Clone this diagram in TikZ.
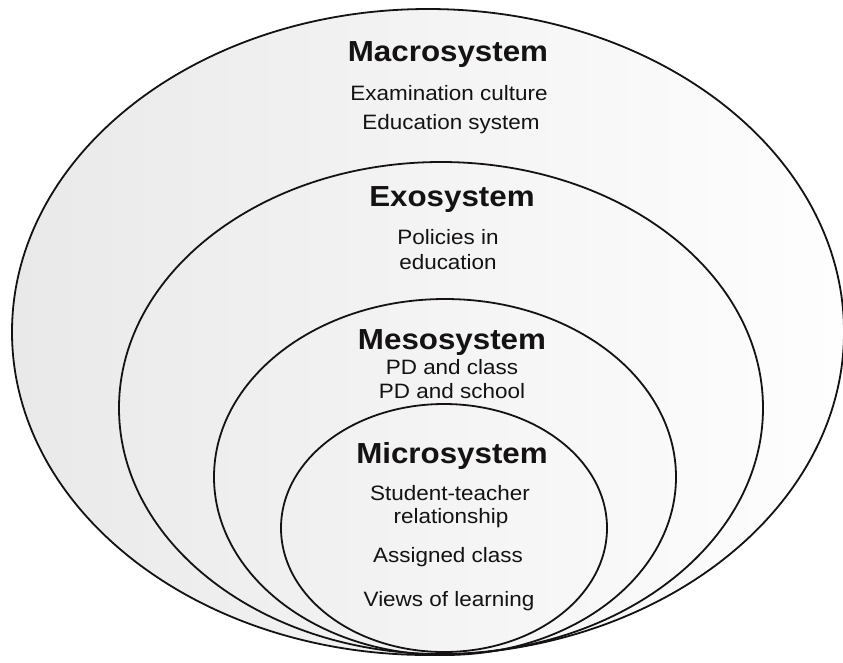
\documentclass[tikz,border=0pt]{standalone}
\usepackage{fontspec}
\setmainfont{Liberation Sans}[FakeStretch=1.08]
\usetikzlibrary{shapes.geometric}
\definecolor{inkc}{HTML}{141212}
\definecolor{shadeL}{HTML}{E9E9E9}
\definecolor{shadeR}{HTML}{FEFEFE}
\tikzset{
  ring/.style={ellipse, draw=inkc, line width=1.8pt, inner sep=0pt, outer sep=0pt},
  ttl/.style={anchor=base, inner sep=0pt, text=inkc, font=\fontsize{29}{33}\selectfont\bfseries},
  itm/.style={anchor=base, inner sep=0pt, text=inkc, font=\fontsize{20.8}{24}\selectfont},
}
\begin{document}
\begin{tikzpicture}[x=1pt,y=-1pt]
\useasboundingbox (0,0) rectangle (843,662);
\node[ring, left color=shadeL, right color=shadeR, minimum width=832pt, minimum height=646pt] (macro) at (428,332) {};
\node[ring, minimum width=644pt, minimum height=492pt] (exo) at (441,408) {};
\node[ring, minimum width=462pt, minimum height=356pt] (meso) at (445,477) {};
\node[ring, minimum width=326pt, minimum height=248pt] (micro) at (444,528) {};

\node[ttl] (tmacro) at (448,61) {Macrosystem};
\node[itm] (m1) at (449,100) {Examination culture};
\node[itm] (m2) at (451,129) {Education system};

\node[ttl] (texo) at (452,206) {Exosystem};
\node[itm] (e1) at (448,244) {Policies in};
\node[itm] (e2) at (448,269) {education};

\node[ttl] (tmeso) at (452,349) {Mesosystem};
\node[itm] (s1) at (452,374) {PD and class};
\node[itm] (s2) at (452,398) {PD and school};

\node[ttl] (tmicro) at (452,463) {Microsystem};
\node[itm] (c1) at (450,500) {Student-teacher};
\node[itm] (c2) at (451,523) {relationship};
\node[itm] (c3) at (448,562) {Assigned class};
\node[itm] (c4) at (449,606) {Views of learning};
\end{tikzpicture}
\end{document}
